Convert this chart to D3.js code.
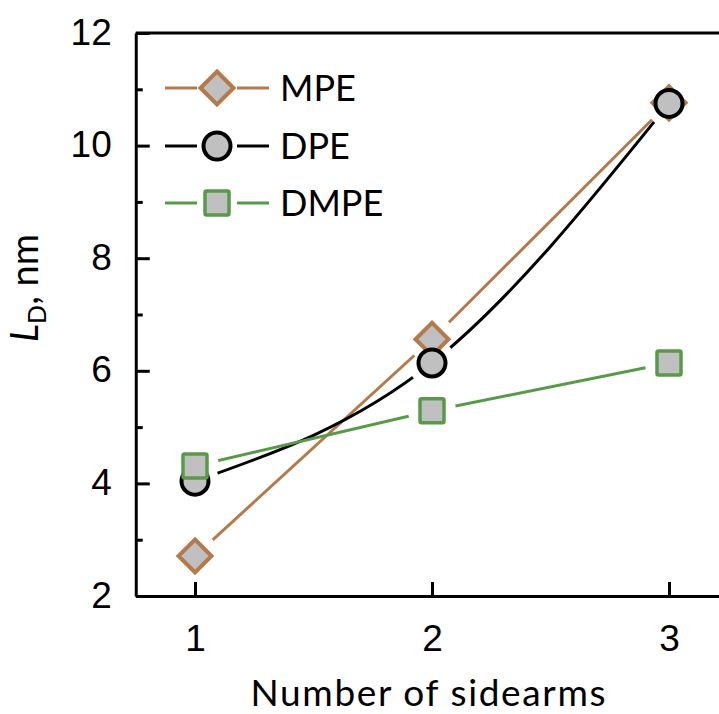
<!DOCTYPE html>
<html><head><meta charset="utf-8">
<script src="https://cdn.jsdelivr.net/npm/d3@7"></script>
<style>body{margin:0;background:#fff}svg{display:block}</style>
</head><body>
<svg id="c" width="719" height="714"></svg>
<script>
const categories = [1, 2, 3];
const seriesNames = ["MPE", "DPE", "DMPE"];
const mpeValues = [2.71, 6.56, 10.76];
const dpeValues = [4.04, 6.14, 10.75];
const dmpeValues = [4.31, 5.29, 6.14];
const yTickLabels = [2, 4, 6, 8, 10, 12];
const yMinorTicks = [3, 5, 7, 9, 11];
const xTickLabels = ["1", "2", "3"];

const brown = "#b47a4c", green = "#579a47", fill = "#c0c0c0";
const series = [
  {name: seriesNames[0], values: mpeValues, color: brown, shape: "diamond", curve: d3.curveLinear},
  {name: seriesNames[1], values: dpeValues, color: "#000", shape: "circle", curve: d3.curveNatural},
  {name: seriesNames[2], values: dmpeValues, color: green, shape: "square", curve: d3.curveLinear}
];

const svg = d3.select("#c");
const x = d3.scaleLinear().domain([0.75, 3.25]).range([135.75, 728.25]);
const y = d3.scaleLinear().domain([2, 12]).range([596, 33]);

// frame top line
svg.append("line").attr("x1", x(0.75)).attr("x2", 719).attr("y1", y(12)).attr("y2", y(12))
  .attr("stroke", "#000").attr("stroke-width", 3);

// y axis
const yAx = svg.append("g").attr("transform", `translate(${x(0.75)},0)`)
  .call(d3.axisLeft(y).tickValues(yTickLabels).tickSizeInner(-14).tickSizeOuter(0).tickPadding(24));
yAx.select(".domain").attr("stroke-width", 3);
yAx.selectAll(".tick line").attr("stroke-width", 3);
yAx.selectAll("text").attr("font-family", "Liberation Sans, Arial, sans-serif").attr("font-size", 37).attr("fill", "#000").attr("dy", "0.3em");
const yMin = svg.append("g").attr("transform", `translate(${x(0.75)},0)`)
  .call(d3.axisLeft(y).tickValues(yMinorTicks).tickSizeInner(-7).tickSizeOuter(0).tickFormat(""));
yMin.select(".domain").remove();
yMin.selectAll(".tick line").attr("stroke-width", 3);

// x axis
const xAx = svg.append("g").attr("transform", `translate(0,${y(2)})`)
  .call(d3.axisBottom(x).tickValues(categories).tickFormat((d, i) => xTickLabels[i]).tickSizeInner(-14).tickSizeOuter(0).tickPadding(29));
xAx.select(".domain").attr("stroke-width", 3);
xAx.selectAll(".tick line").attr("stroke-width", 3);
xAx.selectAll("text").attr("font-family", "Liberation Sans, Arial, sans-serif").attr("font-size", 37).attr("fill", "#000");

// titles
svg.append("text").attr("x", 428).attr("y", 706).attr("text-anchor", "middle")
  .attr("font-family", "Lato, sans-serif").attr("font-size", 37)
  .attr("textLength", 355).attr("lengthAdjust", "spacing").text("Number of sidearms");
const yt = svg.append("text").attr("transform", "translate(38,288) rotate(-90)").attr("text-anchor", "middle")
  .attr("font-family", "Lato, sans-serif").attr("font-size", 38);
yt.append("tspan").attr("font-style", "italic").text("L");
yt.append("tspan").attr("font-size", 25).attr("dy", 8).text("D");
yt.append("tspan").attr("dy", -8).text(", nm");

// markers
function marker(g, shape, cx, cy, color) {
  if (shape === "diamond") {
    const r = 16.5;
    g.append("path").attr("d", `M${cx},${cy - r}L${cx + r},${cy}L${cx},${cy + r}L${cx - r},${cy}Z`)
      .attr("fill", fill).attr("stroke", color).attr("stroke-width", 4).attr("stroke-linejoin", "miter");
  } else if (shape === "circle") {
    g.append("circle").attr("cx", cx).attr("cy", cy).attr("r", 13.5)
      .attr("fill", fill).attr("stroke", color).attr("stroke-width", 4);
  } else {
    const s = 24;
    g.append("rect").attr("x", cx - s / 2).attr("y", cy - s / 2).attr("width", s).attr("height", s).attr("rx", 1.5)
      .attr("fill", fill).attr("stroke", color).attr("stroke-width", 3.5);
  }
}

const defs = svg.append("defs");
series.forEach((s, si) => {
  const m = defs.append("mask").attr("id", "m" + si).attr("maskUnits", "userSpaceOnUse")
    .attr("x", 0).attr("y", 0).attr("width", 719).attr("height", 714);
  m.append("rect").attr("width", 719).attr("height", 714).attr("fill", "#fff");
  s.values.forEach((v, i) => m.append("circle").attr("cx", x(categories[i])).attr("cy", y(v)).attr("r", 24).attr("fill", "#000"));
  const line = d3.line().x((d, i) => x(categories[i])).y(d => y(d)).curve(s.curve);
  svg.append("path").attr("d", line(s.values)).attr("fill", "none").attr("stroke", s.color)
    .attr("stroke-width", 3).attr("mask", `url(#m${si})`);
});
series.forEach(s => {
  const g = svg.append("g");
  s.values.forEach((v, i) => marker(g, s.shape, x(categories[i]), y(v), s.color));
});

// legend
const legY = [88, 146, 203];
series.forEach((s, i) => {
  const g = svg.append("g");
  g.append("line").attr("x1", 165).attr("x2", 197).attr("y1", legY[i]).attr("y2", legY[i]).attr("stroke", s.color).attr("stroke-width", 3);
  g.append("line").attr("x1", 237).attr("x2", 269).attr("y1", legY[i]).attr("y2", legY[i]).attr("stroke", s.color).attr("stroke-width", 3);
  marker(g, s.shape, 217, legY[i], s.color);
  g.append("text").attr("x", 280).attr("y", legY[i] + 13).attr("font-family", "Lato, sans-serif").attr("font-size", 36).text(s.name);
});
</script>
</body></html>
